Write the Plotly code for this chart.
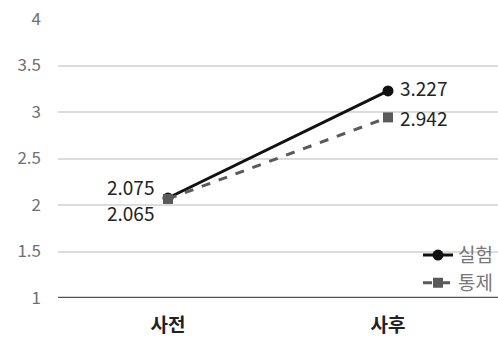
import plotly.graph_objects as go

categories = ["사전", "사후"]
exp_vals = [2.075, 3.227]
ctrl_vals = [2.065, 2.942]
series_names = ["실험", "통제"]
y_ticks = [1, 1.5, 2, 2.5, 3, 3.5, 4]
y_tick_labels = ["1", "1.5", "2", "2.5", "3", "3.5", "4"]

FONT = "Noto Sans CJK KR"

fig = go.Figure()
fig.add_trace(go.Scatter(
    x=categories, y=exp_vals, name=series_names[0], mode="lines+markers",
    line=dict(color="#111111", width=3),
    marker=dict(symbol="circle", size=11, color="#111111"),
))
fig.add_trace(go.Scatter(
    x=categories, y=ctrl_vals, name=series_names[1], mode="lines+markers",
    line=dict(color="#5a5a5a", width=3, dash="dash"),
    marker=dict(symbol="square", size=10, color="#5a5a5a"),
))

label_font = dict(family=FONT, size=19, color="#222222")
# data labels
fig.add_annotation(x=categories[0], y=exp_vals[0], text=f"{exp_vals[0]:.3f}", showarrow=False,
                   xanchor="right", yanchor="middle", xshift=-12, yshift=12, font=label_font)
fig.add_annotation(x=categories[0], y=ctrl_vals[0], text=f"{ctrl_vals[0]:.3f}", showarrow=False,
                   xanchor="right", yanchor="middle", xshift=-12, yshift=-14, font=label_font)
fig.add_annotation(x=categories[1], y=exp_vals[1], text=f"{exp_vals[1]:.3f}", showarrow=False,
                   xanchor="left", yanchor="middle", xshift=10, yshift=3, font=label_font)
fig.add_annotation(x=categories[1], y=ctrl_vals[1], text=f"{ctrl_vals[1]:.3f}", showarrow=False,
                   xanchor="left", yanchor="middle", xshift=10, yshift=0, font=label_font)

fig.update_layout(
    width=498, height=345,
    margin=dict(l=58, r=0, t=19, b=47),
    paper_bgcolor="white", plot_bgcolor="white",
    font=dict(family=FONT),
    showlegend=True,
    legend=dict(x=1.0, y=-0.015, xanchor="right", yanchor="bottom",
                font=dict(family=FONT, size=19, color="#777777"),
                bgcolor="rgba(0,0,0,0)", itemwidth=30, tracegroupgap=0),
    xaxis=dict(type="category", range=[-0.5, 1.5], showgrid=False,
               showline=False, ticks="", ticklen=0, ticklabelstandoff=14,
               tickfont=dict(family=FONT, size=19, color="#222222", weight="bold")),
    yaxis=dict(range=[1, 4], tickvals=y_ticks, ticktext=y_tick_labels,
               showgrid=True, gridcolor="#dcdcdc", gridwidth=2,
               zeroline=False, showline=False,
               tickfont=dict(family=FONT, size=17, color="#707070"),
               ticklabelstandoff=16),
)
# baseline at y=1
fig.add_shape(type="line", xref="paper", yref="y", x0=0, x1=1, y0=y_ticks[0], y1=y_ticks[0],
              line=dict(color="#555555", width=2.5))
fig.write_html("out.html")
